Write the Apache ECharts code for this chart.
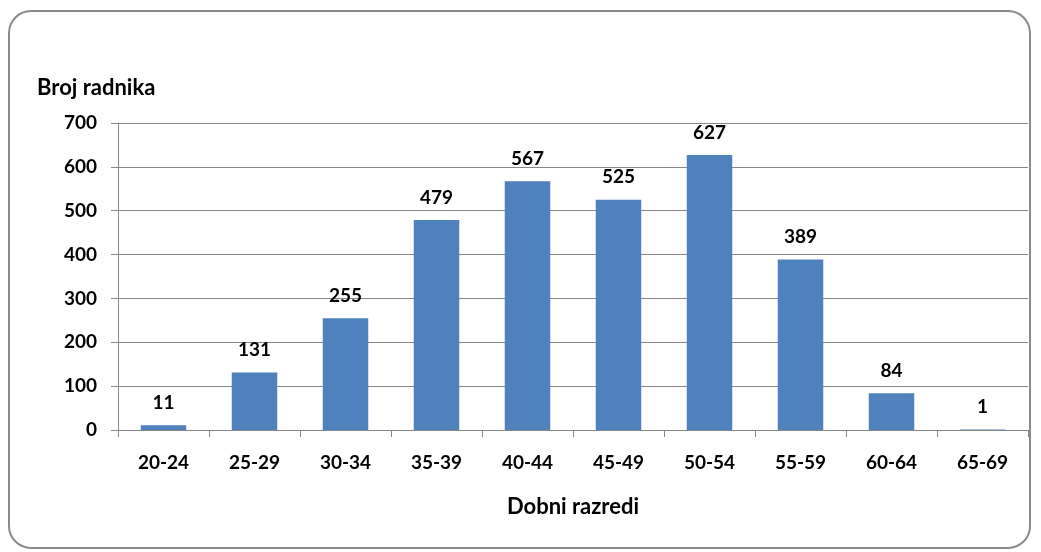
<!DOCTYPE html>
<html><head><meta charset="utf-8">
<script src="https://cdn.jsdelivr.net/npm/echarts@6/dist/echarts.min.js"></script>
<style>html,body{margin:0;padding:0;background:#fff}#c{width:1041px;height:552px}</style>
</head><body><div id="c"></div>
<script>
const categories = ['20-24','25-29','30-34','35-39','40-44','45-49','50-54','55-59','60-64','65-69'];
const values = [11,131,255,479,567,525,627,389,84,1];
const yTicks = [0,100,200,300,400,500,600,700];
const FONT = 'Lato';
const chart = echarts.init(document.getElementById('c'));
chart.setOption({
  animation:false,
  graphic:[{type:'rect',shape:{x:9,y:11,width:1021,height:537,r:22},style:{fill:'none',stroke:'#8a8a8a',lineWidth:2}}],
  grid:{left:118,right:13,top:123,bottom:122},
  xAxis:{type:'category',data:categories,
    name:'Dobni razredi',nameLocation:'middle',nameGap:66,
    nameTextStyle:{fontFamily:FONT,fontWeight:'bold',fontSize:22,color:'#000'},
    axisLine:{lineStyle:{color:'#868686'}},
    axisTick:{show:true,length:7,lineStyle:{color:'#868686'}},
    axisLabel:{fontFamily:FONT,fontWeight:'bold',fontSize:19,color:'#000',margin:23}},
  yAxis:{type:'value',min:yTicks[0],max:yTicks[yTicks.length-1],interval:100,
    name:'Broj radnika',nameLocation:'end',nameGap:24,
    nameTextStyle:{fontFamily:FONT,fontWeight:'bold',fontSize:22,color:'#000',align:'left',padding:[0,0,0,-81]},
    axisLine:{show:true,lineStyle:{color:'#868686'}},
    axisTick:{show:true,length:7,lineStyle:{color:'#868686'}},
    splitLine:{lineStyle:{color:'#868686'}},
    axisLabel:{fontFamily:FONT,fontWeight:'bold',fontSize:19,color:'#000',margin:21}},
  series:[{type:'bar',data:values,barWidth:'50%',itemStyle:{color:'#4F81BD'},
    label:{show:true,position:'top',distance:13,fontFamily:FONT,fontWeight:'bold',fontSize:19,color:'#000'}}]
});
</script></body></html>
